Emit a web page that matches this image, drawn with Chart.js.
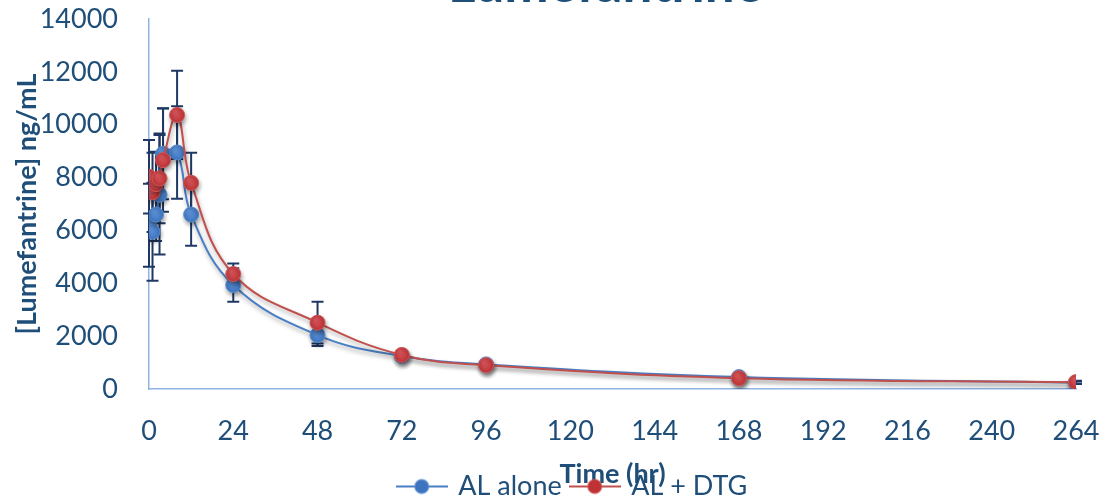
<!DOCTYPE html>
<html>
<head>
<meta charset="utf-8">
<script src="https://cdn.jsdelivr.net/npm/chart.js@4"></script>
<style>
  html, body { margin: 0; padding: 0; background: #fff; }
  #wrap { position: relative; width: 1113px; height: 504px; }
</style>
</head>
<body>
<div id="wrap"><canvas id="c" width="1113" height="504"></canvas></div>
<script>
const chartTitle = "Lumefantrine";
const xTitle = "Time (hr)";
const yTitle = "[Lumefantrine] ng/mL";
const seriesNames = ["AL alone", "AL + DTG"];

const times = [0, 1, 2, 3, 4, 8, 12, 24, 48, 72, 96, 168, 264];
const alAlone   = [6200, 5950, 6600, 7350, 8900, 8950, 6600, 3935, 2040, 1250, 930, 450, 240];
const alAloneSd = [1570, 1850, 1000, 2260, 1720, 1750, 1180, 635, 416, 150, 100, 80, 50];
const alDtg     = [8030, 7440, 7750, 7970, 8660, 10370, 7800, 4350, 2510, 1290, 900, 410, 260];
const alDtgSd   = [1390, 1500, 1230, 1700, 1950, 1670, 1140, 400, 790, 150, 100, 80, 50];

const xTicks = [0, 24, 48, 72, 96, 120, 144, 168, 192, 216, 240, 264];
const yTicks = [0, 2000, 4000, 6000, 8000, 10000, 12000, 14000];

const textColor = '#1F4E79';
const axisColor = '#8EB4E3';
const blueLine = '#4A7EC4', blueFill = '#3D74C0', blueLight = '#5E93DA', blueBorder = '#5B8DD0';
const redLine = '#C0504D', redFill = '#BC3235', redLight = '#D9555A', redBorder = '#D05858';
const errColor = '#1F3864';
const FONT = 'Lato';

function pts(vals) { return times.map((t, i) => ({x: t, y: vals[i]})); }

function legendSymbol(line, fill, border) {
  const c = document.createElement('canvas');
  c.width = 52; c.height = 18;
  const g = c.getContext('2d');
  g.strokeStyle = line; g.lineWidth = 2;
  g.beginPath(); g.moveTo(0, 9); g.lineTo(52, 9); g.stroke();
  g.fillStyle = fill; g.strokeStyle = border; g.lineWidth = 1;
  g.beginPath(); g.arc(26, 9, 7, 0, Math.PI * 2); g.fill(); g.stroke();
  return c;
}

function markerFill(light, dark) {
  return (c) => {
    const ch = c.chart;
    if (c.type !== 'data' || !c.parsed || !ch.scales.x || !ch.scales.y) return dark;
    const px = ch.scales.x.getPixelForValue(c.parsed.x);
    const py = ch.scales.y.getPixelForValue(c.parsed.y);
    if (!isFinite(px) || !isFinite(py)) return dark;
    const g = ch.ctx.createRadialGradient(px - 2, py - 3, 1, px, py, 8);
    g.addColorStop(0, light);
    g.addColorStop(1, dark);
    return g;
  };
}

const errorBars = {
  id: 'errorBars',
  beforeDatasetsDraw(chart) {
    const {ctx, scales: {x, y}} = chart;
    const sds = [alAloneSd, alDtgSd];
    ctx.save();
    ctx.strokeStyle = errColor;
    ctx.lineWidth = 2;
    chart.data.datasets.forEach((ds, di) => {
      ds.data.forEach((p, i) => {
        const sd = sds[di][i];
        const px = x.getPixelForValue(p.x);
        const yt = y.getPixelForValue(p.y + sd);
        const yb = y.getPixelForValue(Math.max(0, p.y - sd));
        ctx.beginPath();
        ctx.moveTo(px, yt); ctx.lineTo(px, yb);
        ctx.moveTo(px - 6, yt); ctx.lineTo(px + 6, yt);
        ctx.moveTo(px - 6, yb); ctx.lineTo(px + 6, yb);
        ctx.stroke();
      });
    });
    ctx.restore();
  }
};

const shadows = {
  id: 'shadows',
  beforeDatasetDraw(chart) {
    const ctx = chart.ctx;
    ctx.save();
    ctx.shadowColor = 'rgba(0,0,0,0.35)';
    ctx.shadowBlur = 4;
    ctx.shadowOffsetX = 1;
    ctx.shadowOffsetY = 3;
  },
  afterDatasetDraw(chart) { chart.ctx.restore(); }
};

const shiftLegend = {
  id: 'shiftLegend',
  afterLayout(chart) {
    if (chart.legend) { chart.legend.left += 32; }
  }
};

const topTitle = {
  id: 'topTitle',
  afterDraw(chart) {
    const {ctx, chartArea} = chart;
    ctx.save();
    ctx.font = 'bold 53px ' + FONT;
    ctx.fillStyle = textColor;
    ctx.textAlign = 'center';
    ctx.textBaseline = 'alphabetic';
    ctx.fillText(chartTitle, (chartArea.left + chartArea.right) / 2 - 7, 2);
    ctx.restore();
  }
};

new Chart(document.getElementById('c'), {
  type: 'line',
  data: {
    datasets: [
      {
        label: seriesNames[0], data: pts(alAlone), order: 2,
        borderColor: blueLine, borderWidth: 2,
        pointBackgroundColor: markerFill(blueLight, blueFill), pointBorderColor: blueBorder, pointBorderWidth: 1,
        pointRadius: 7.5, pointStyle: 'circle',
        tension: 0.4, fill: false
      },
      {
        label: seriesNames[1], data: pts(alDtg), order: 1,
        borderColor: redLine, borderWidth: 2,
        pointBackgroundColor: markerFill(redLight, redFill), pointBorderColor: redBorder, pointBorderWidth: 1,
        pointRadius: 7.5, pointStyle: 'circle',
        tension: 0.4, fill: false
      }
    ]
  },
  options: {
    responsive: false,
    animation: false,
    layout: { padding: { top: 19, right: 37, bottom: -6, left: 38 } },
    plugins: {
      title: { display: false },
      tooltip: { enabled: false },
      legend: {
        position: 'bottom',
        labels: {
          usePointStyle: true,
          pointStyleWidth: 46,
          padding: 10,
          color: textColor,
          font: { family: FONT, size: 27 },
          generateLabels(chart) {
            return chart.data.datasets.map((ds, i) => ({
              text: ds.label,
              pointStyle: legendSymbol(ds.borderColor, i === 0 ? blueFill : redFill, ds.pointBorderColor),
              fontColor: textColor,
              strokeStyle: 'transparent', fillStyle: 'transparent', lineWidth: 0,
              datasetIndex: i, hidden: false
            }));
          }
        }
      }
    },
    scales: {
      x: {
        type: 'linear', min: 0, max: 264,
        afterBuildTicks(s) { s.ticks = xTicks.map(v => ({value: v})); },
        afterFit(s) { s.height = 74; },
        grid: { display: false, drawTicks: true, tickLength: 26 },
        border: { display: true, color: axisColor, width: 1.5 },
        ticks: { color: textColor, font: { family: FONT, size: 27 }, padding: 0, maxRotation: 0,
                 callback: v => String(v) },
        title: { display: true, text: xTitle, color: textColor, font: { family: FONT, size: 27, weight: 'bold' }, padding: { top: 0, bottom: -27 } }
      },
      y: {
        min: 0, max: 14000,
        afterBuildTicks(s) { s.ticks = yTicks.map(v => ({value: v})); },
        afterFit(s) { s.width = 111; },
        grid: { display: false, drawTicks: true, tickLength: 31 },
        border: { display: true, color: axisColor, width: 1.5 },
        ticks: { color: textColor, font: { family: FONT, size: 27 }, padding: 0,
                 callback: v => String(v) },
        title: { display: true, text: yTitle, color: textColor, font: { family: FONT, size: 27, weight: 'bold' }, padding: { top: -27, bottom: 0 } }
      }
    }
  },
  plugins: [errorBars, shadows, shiftLegend, topTitle]
});
</script>
</body>
</html>
